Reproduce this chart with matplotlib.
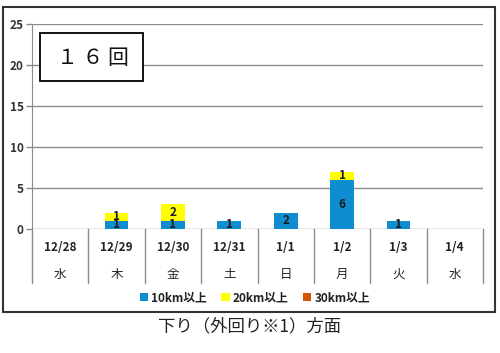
import numpy as np
import matplotlib
matplotlib.use("Agg")
import matplotlib.pyplot as plt
import matplotlib.transforms as mtransforms
from matplotlib.patches import Rectangle

plt.rcParams['font.family'] = ['Noto Sans CJK JP', 'DejaVu Sans']

dates = ["12/28", "12/29", "12/30", "12/31", "1/1", "1/2", "1/3", "1/4"]
weekdays = ["水", "木", "金", "土", "日", "月", "火", "水"]
km10 = [0, 1, 1, 1, 2, 6, 1, 0]
km20 = [0, 1, 2, 0, 0, 1, 0, 0]
km30 = [0, 0, 0, 0, 0, 0, 0, 0]
series_names = ["10km以上", "20km以上", "30km以上"]
colors = ["#0E8ED0", "#FFFF00", "#D35400"]

fig = plt.figure(figsize=(5, 3.53), dpi=100)
ax = fig.add_axes([0.064, 0.351, 0.902, 0.581])

x = np.arange(len(dates))
bottom = np.zeros(len(dates))
bars = []
for vals, name, c in zip([km10, km20, km30], series_names, colors):
    b = ax.bar(x, vals, 0.42, bottom=bottom, color=c, label=name, zorder=3)
    bars.append(b)
    for xi, v, b0 in zip(x, vals, bottom):
        if v > 0:
            ax.text(xi, b0 + v / 2, str(v), ha='center', va='center',
                    fontsize=8.5, fontweight='bold', color='#1a1a1a', zorder=4)
    bottom += np.array(vals)

ax.set_xlim(-0.5, len(dates) - 0.5)
ax.set_ylim(0, 25)
ax.set_yticks([0, 5, 10, 15, 20, 25])
ax.set_yticklabels([str(v) for v in [0, 5, 10, 15, 20, 25]],
                   fontsize=8.5, fontweight='bold', color='#333333')
ax.tick_params(axis='y', length=4, width=1, color='#888888', pad=2)
ax.set_xticks([])
ax.grid(axis='y', color='#8c8c8c', linewidth=1, zorder=0)
for s in ['top', 'right', 'bottom']:
    ax.spines[s].set_visible(False)
ax.spines['left'].set_color('#8c8c8c')
ax.spines['left'].set_bounds(0, 25)

# category separators and labels below axis
trans = mtransforms.blended_transform_factory(ax.transData, ax.transAxes)
for i in range(len(dates) + 1):
    ax.plot([i - 0.5, i - 0.5], [0, -0.263], transform=trans,
            color='#8c8c8c', linewidth=1, clip_on=False)
for xi, d, w in zip(x, dates, weekdays):
    ax.text(xi, -0.088, d, transform=trans, ha='center', va='center',
            fontsize=8.5, fontweight='bold', color='#222222')
    ax.text(xi, -0.22, w, transform=trans, ha='center', va='center',
            fontsize=9, color='#222222')

# "16回" box
ax.add_patch(Rectangle((0.018, 0.722), 0.228, 0.234, transform=ax.transAxes,
                       facecolor='white', edgecolor='black', linewidth=1.3,
                       zorder=5))
ax.text(0.135, 0.835, "１ ６ 回", transform=ax.transAxes, ha='center',
        va='center', fontsize=15, color='#111111', zorder=6)

leg = fig.legend(handles=bars, labels=series_names, loc='center',
                 bbox_to_anchor=(0.51, 0.156), ncol=3, frameon=False,
                 fontsize=8.5, handlelength=0.7, handleheight=0.7,
                 handletextpad=0.3, columnspacing=1.2)
for t in leg.get_texts():
    t.set_fontweight('bold')
    t.set_color('#222222')

# outer border
fig.patches.append(Rectangle((0.006, 0.116), 0.984, 0.864,
                             transform=fig.transFigure, fill=False,
                             edgecolor='#333333', linewidth=1.5))

fig.text(0.5, 0.075, "下り（外回り※1）方面", ha='center', va='center',
         fontsize=12.5, color='#222222')

fig.savefig("out.png", dpi=100)
